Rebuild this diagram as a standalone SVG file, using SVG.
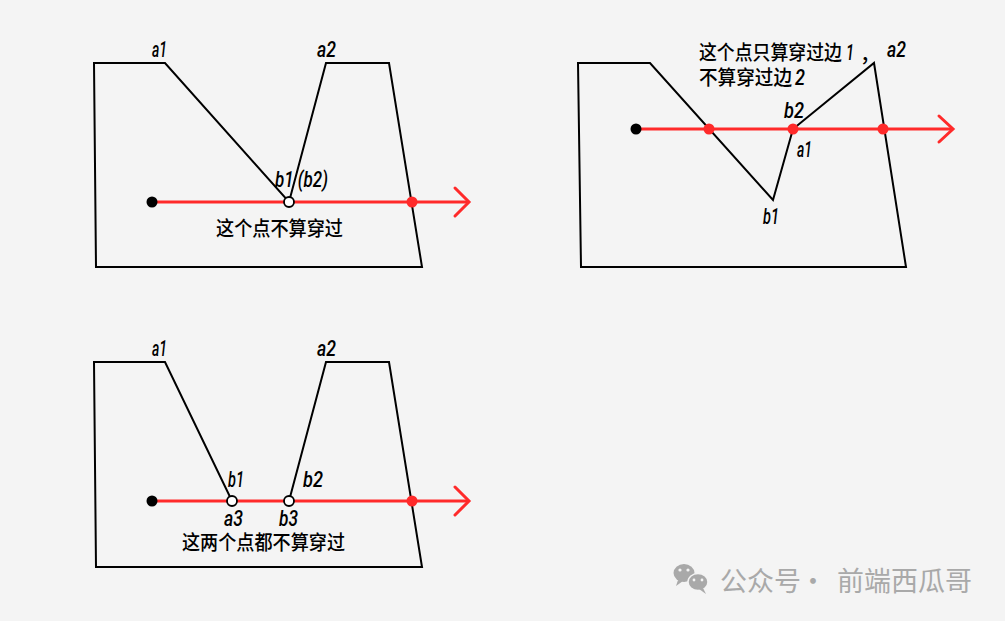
<svg xmlns="http://www.w3.org/2000/svg" width="1005" height="621" viewBox="0 0 1005 621">
<style>
.poly{fill:none;stroke:#000;stroke-width:2;stroke-linejoin:miter}
.ray{fill:none;stroke:#ff2a2a;stroke-width:3}
.arrow{fill:none;stroke:#ff2a2a;stroke-width:3;stroke-linecap:round;stroke-linejoin:miter}
.rdot{fill:#ff2a2a}
.bdot{fill:#000}
.odot{fill:#fff;stroke:#000;stroke-width:1.8}
.lbl{font-family:Roboto,"DejaVu Sans",sans-serif;font-style:italic;font-weight:500;font-size:22px;fill:#000}
.cn{font-family:"Noto Sans CJK SC","Noto Sans",sans-serif;font-size:20px;font-weight:500;fill:#000}
.wm{font-family:"Noto Sans CJK SC","Noto Sans",sans-serif;font-size:27px;fill:#a9a9a9}
</style>
<rect width="1005" height="621" fill="#f4f4f4"/>

<g id="panel1">
  <polygon class="poly" points="94,63 165,63 289,202 326,63 389,63 422,267 96,267"/>
  <g id="connectors1">
    <line class="ray" x1="152" y1="202" x2="467" y2="202"/>
    <polyline class="arrow" points="455,188 469,202 455,216"/>
  </g>
  <circle class="bdot" cx="152" cy="202" r="5.5"/>
  <circle class="rdot" cx="412" cy="202" r="5.5"/>
  <circle class="odot" cx="289" cy="202" r="5"/>
  <text class="lbl" x="152" y="57" textLength="15" lengthAdjust="spacingAndGlyphs">a1</text>
  <text class="lbl" x="317" y="57" textLength="19" lengthAdjust="spacingAndGlyphs">a2</text>
  <text class="lbl" x="275" y="187" textLength="53" lengthAdjust="spacingAndGlyphs">b1 (b2)</text>
  <text class="cn" x="216" y="236" textLength="127" lengthAdjust="spacingAndGlyphs">这个点不算穿过</text>
</g>

<g id="panel2">
  <polygon class="poly" points="578,63 650,63 773,200 793,129 874,63 906,267 581,267"/>
  <g id="connectors2">
    <line class="ray" x1="636" y1="129" x2="951" y2="129"/>
    <polyline class="arrow" points="939,116 953,129 939,142"/>
  </g>
  <circle class="bdot" cx="636" cy="129" r="5.5"/>
  <circle class="rdot" cx="709" cy="129" r="5.5"/>
  <circle class="rdot" cx="793" cy="129" r="5.5"/>
  <circle class="rdot" cx="883" cy="129" r="5.5"/>
  <text class="cn" x="699" y="60" textLength="143" lengthAdjust="spacingAndGlyphs">这个点只算穿过边</text>
  <text class="lbl" x="846" y="60" textLength="8" lengthAdjust="spacingAndGlyphs">1</text>
  <text class="cn" x="860" y="62">，</text>
  <text class="cn" x="699" y="85" textLength="93" lengthAdjust="spacingAndGlyphs">不算穿过边</text>
  <text class="lbl" x="795" y="85" textLength="10" lengthAdjust="spacingAndGlyphs">2</text>
  <text class="lbl" x="887" y="57" textLength="19" lengthAdjust="spacingAndGlyphs">a2</text>
  <text class="lbl" x="784" y="118" textLength="20" lengthAdjust="spacingAndGlyphs">b2</text>
  <text class="lbl" x="797" y="157" textLength="15" lengthAdjust="spacingAndGlyphs">a1</text>
  <text class="lbl" x="763" y="224" textLength="16" lengthAdjust="spacingAndGlyphs">b1</text>
</g>

<g id="panel3">
  <polygon class="poly" points="94,362 165,362 232,501 289,501 326,362 389,362 422,567 96,567"/>
  <g id="connectors3">
    <line class="ray" x1="152" y1="501" x2="467" y2="501"/>
    <polyline class="arrow" points="455,487 469,501 455,515"/>
  </g>
  <circle class="bdot" cx="152" cy="501" r="5.5"/>
  <circle class="rdot" cx="412" cy="501" r="5.5"/>
  <circle class="odot" cx="232" cy="501" r="5"/>
  <circle class="odot" cx="289" cy="501" r="5"/>
  <text class="lbl" x="152" y="356" textLength="15" lengthAdjust="spacingAndGlyphs">a1</text>
  <text class="lbl" x="317" y="356" textLength="19" lengthAdjust="spacingAndGlyphs">a2</text>
  <text class="lbl" x="228" y="487" textLength="16" lengthAdjust="spacingAndGlyphs">b1</text>
  <text class="lbl" x="303" y="487" textLength="20" lengthAdjust="spacingAndGlyphs">b2</text>
  <text class="lbl" x="224" y="526" textLength="19" lengthAdjust="spacingAndGlyphs">a3</text>
  <text class="lbl" x="279" y="526" textLength="19" lengthAdjust="spacingAndGlyphs">b3</text>
  <text class="cn" x="182" y="550" textLength="163" lengthAdjust="spacingAndGlyphs">这两个点都不算穿过</text>
</g>

<g id="watermark">
  <ellipse cx="684" cy="573" rx="10.5" ry="9" fill="#a9a9a9"/>
  <path d="M678,580 L676,586 L683,581 Z" fill="#a9a9a9"/>
  <ellipse cx="698" cy="582" rx="10" ry="8.5" fill="#a9a9a9" stroke="#f4f4f4" stroke-width="1.5"/>
  <path d="M703,588 L706,594 L699,589 Z" fill="#a9a9a9"/>
  <circle cx="680" cy="570" r="1.6" fill="#f4f4f4"/>
  <circle cx="688" cy="570" r="1.6" fill="#f4f4f4"/>
  <circle cx="694" cy="580" r="1.4" fill="#f4f4f4"/>
  <circle cx="702" cy="580" r="1.4" fill="#f4f4f4"/>
  <text class="wm" x="720" y="591">公众号</text>
  <text class="wm" x="813" y="591" text-anchor="middle">·</text>
  <text class="wm" x="837" y="591">前端西瓜哥</text>
</g>
</svg>
